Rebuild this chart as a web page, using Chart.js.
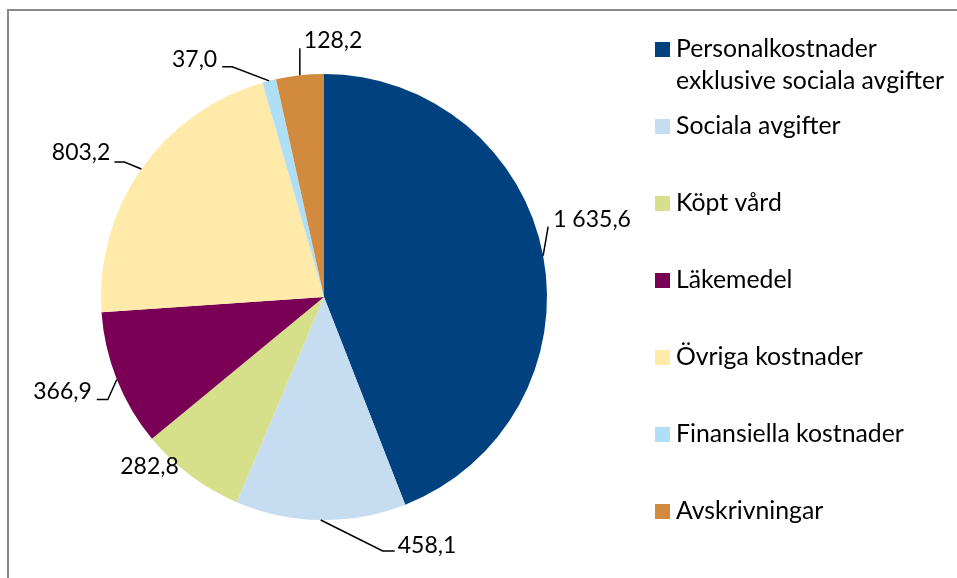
<!DOCTYPE html>
<html>
<head>
<meta charset="UTF-8">
<title>Kostnader</title>
<script src="https://cdn.jsdelivr.net/npm/chart.js@4.4.1/dist/chart.umd.min.js"></script>
<style>
  html, body { margin: 0; padding: 0; background: #fff; }
  #wrap { width: 957px; height: 578px; position: relative; }
</style>
</head>
<body>
<div id="wrap"><canvas id="pie"></canvas></div>
<script>
// data
var categories = [
  ['Personalkostnader', 'exklusive sociala avgifter'],
  ['Sociala avgifter'],
  ['Köpt vård'],
  ['Läkemedel'],
  ['Övriga kostnader'],
  ['Finansiella kostnader'],
  ['Avskrivningar']
];
var values = [1635.6, 458.1, 282.8, 366.9, 803.2, 37.0, 128.2];
var valueLabels = ['1 635,6', '458,1', '282,8', '366,9', '803,2', '37,0', '128,2'];
var colors = ['#00427f', '#c6dcf1', '#d6e08b', '#7a0056', '#ffeaa9', '#aedff7', '#d28b3e'];

var FONT = '23px Lato, "Open Sans", sans-serif';
var LEGEND_FONT = '24.8px Lato, "Open Sans", sans-serif';

// leader lines: elbow offset from slice edge, then a short horizontal run
var leaders = [
  { elbow: [5, -29], run: 0, text: [10, -36], align: 'left' },
  { elbow: [62, 31], run: 12, text: [77, 26], align: 'left' },
  { elbow: null, text: [-41, -9], align: 'center' },
  { elbow: [-9, 20], run: -11, text: [-25, 12], align: 'right' },
  { elbow: [-17, -7], run: -10, text: [-31, -16], align: 'right' },
  { elbow: [-37, -14], run: -10, text: [-52, -21], align: 'right' },
  { elbow: [0, -27], run: 0, text: [4, -35], align: 'left' }
];

var frame = {
  id: 'frame',
  beforeDraw: function (chart) {
    var c = chart.ctx;
    c.save();
    c.strokeStyle = '#898989';
    c.lineWidth = 2;
    c.strokeRect(8, 10, 1000, 1000);
    c.restore();
  }
};

var sliceLabels = {
  id: 'sliceLabels',
  afterDatasetsDraw: function (chart) {
    var c = chart.ctx;
    var arcs = chart.getDatasetMeta(0).data;
    c.save();
    c.font = FONT;
    c.fillStyle = '#000';
    c.strokeStyle = '#000';
    c.lineWidth = 1.5;
    c.textBaseline = 'middle';
    arcs.forEach(function (arc, i) {
      var mid = (arc.startAngle + arc.endAngle) / 2;
      var px = arc.x + Math.cos(mid) * arc.outerRadius;
      var py = arc.y + Math.sin(mid) * arc.outerRadius;
      var L = leaders[i];
      if (L.elbow) {
        var ex = px + L.elbow[0], ey = py + L.elbow[1];
        c.beginPath();
        c.moveTo(px, py);
        c.lineTo(ex, ey);
        if (L.run) c.lineTo(ex + L.run, ey);
        c.stroke();
      }
      c.textAlign = L.align;
      c.fillText(valueLabels[i], px + L.text[0], py + L.text[1]);
    });
    c.restore();
  }
};

var sideLegend = {
  id: 'sideLegend',
  afterDraw: function (chart) {
    var c = chart.ctx;
    c.save();
    c.font = LEGEND_FONT;
    c.textBaseline = 'middle';
    c.textAlign = 'left';
    chart.data.labels.forEach(function (lab, i) {
      var y = 49.5 + 77 * i;
      c.fillStyle = chart.data.datasets[0].backgroundColor[i];
      c.fillRect(655, y - 7.5, 15, 15);
      c.fillStyle = '#000';
      lab.forEach(function (line, k) {
        c.fillText(line, 676, y + k * 32);
      });
    });
    c.restore();
  }
};

new Chart(document.getElementById('pie'), {
  type: 'pie',
  data: {
    labels: categories,
    datasets: [{
      data: values,
      backgroundColor: colors,
      borderWidth: 0
    }]
  },
  options: {
    responsive: true,
    maintainAspectRatio: false,
    animation: false,
    layout: { padding: { left: 101, right: 410, top: 74, bottom: 58 } },
    plugins: {
      legend: { display: false },
      tooltip: { enabled: false }
    }
  },
  plugins: [frame, sliceLabels, sideLegend]
});
</script>
</body>
</html>
